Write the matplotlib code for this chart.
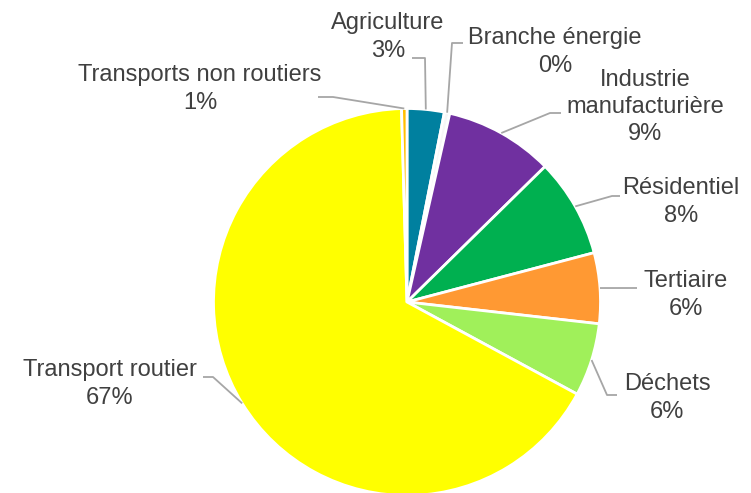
import matplotlib.pyplot as plt
import numpy as np

plt.rcParams['font.family'] = ['Liberation Sans', 'DejaVu Sans']

# données
categories = ['Agriculture', 'Branche énergie', 'Industrie\nmanufacturière', 'Résidentiel',
              'Tertiaire', 'Déchets', 'Transport routier', 'Transports non routiers']
values = [3.1, 0.45, 9.1, 8.25, 5.9, 6.1, 66.65, 0.45]
pct_labels = ['3%', '0%', '9%', '8%', '6%', '6%', '67%', '1%']
colors = ['#00809F', '#F7F7F7', '#7030A0', '#00B050', '#FF9933', '#A0F05A', '#FFFF00', '#FFC000']

W, H = 751, 493
cx, cy, R = 407, 302, 193.5

# position des étiquettes (pixels) et coude de la ligne de rappel
label_pos = [(388, 37), (555, 52), (645, 107), (681, 202), (686, 295), (667, 398), (110, 384), (200, 89)]
elbows = [[(425, 58), (412, 58)], [(452, 43), (463, 43)], [(550, 113), (561, 113)],
          [(612, 196), (620, 196)], [(637, 288)], [(607, 395), (617, 395)],
          [(213, 377), (203, 377)], [(333, 97), (318, 97)]]

fig = plt.figure(figsize=(W / 100, H / 100), dpi=100)
ax = fig.add_axes([0, 0, 1, 1])
wedges, _ = ax.pie(values, colors=colors, startangle=90, counterclock=False,
                   center=(cx, H - cy), radius=R,
                   wedgeprops=dict(edgecolor='white', linewidth=2))
ax.set_xlim(0, W)
ax.set_ylim(0, H)
ax.set_aspect('equal')
ax.axis('off')

for w, cat, pct, (lx, ly), elb in zip(wedges, categories, pct_labels, label_pos, elbows):
    mid = np.deg2rad((w.theta1 + w.theta2) / 2)
    sx = cx + R * np.cos(mid)
    sy = (H - cy) + R * np.sin(mid)
    xs = [sx] + [p[0] for p in elb]
    ys = [sy] + [H - p[1] for p in elb]
    ax.plot(xs, ys, color='#A6A6A6', lw=1.3, solid_capstyle='butt')
    ax.text(lx, H - ly, cat + '\n' + pct, ha='center', va='center', fontsize=17,
            color='#404040', linespacing=1.3)

plt.savefig('out.png', dpi=100)
